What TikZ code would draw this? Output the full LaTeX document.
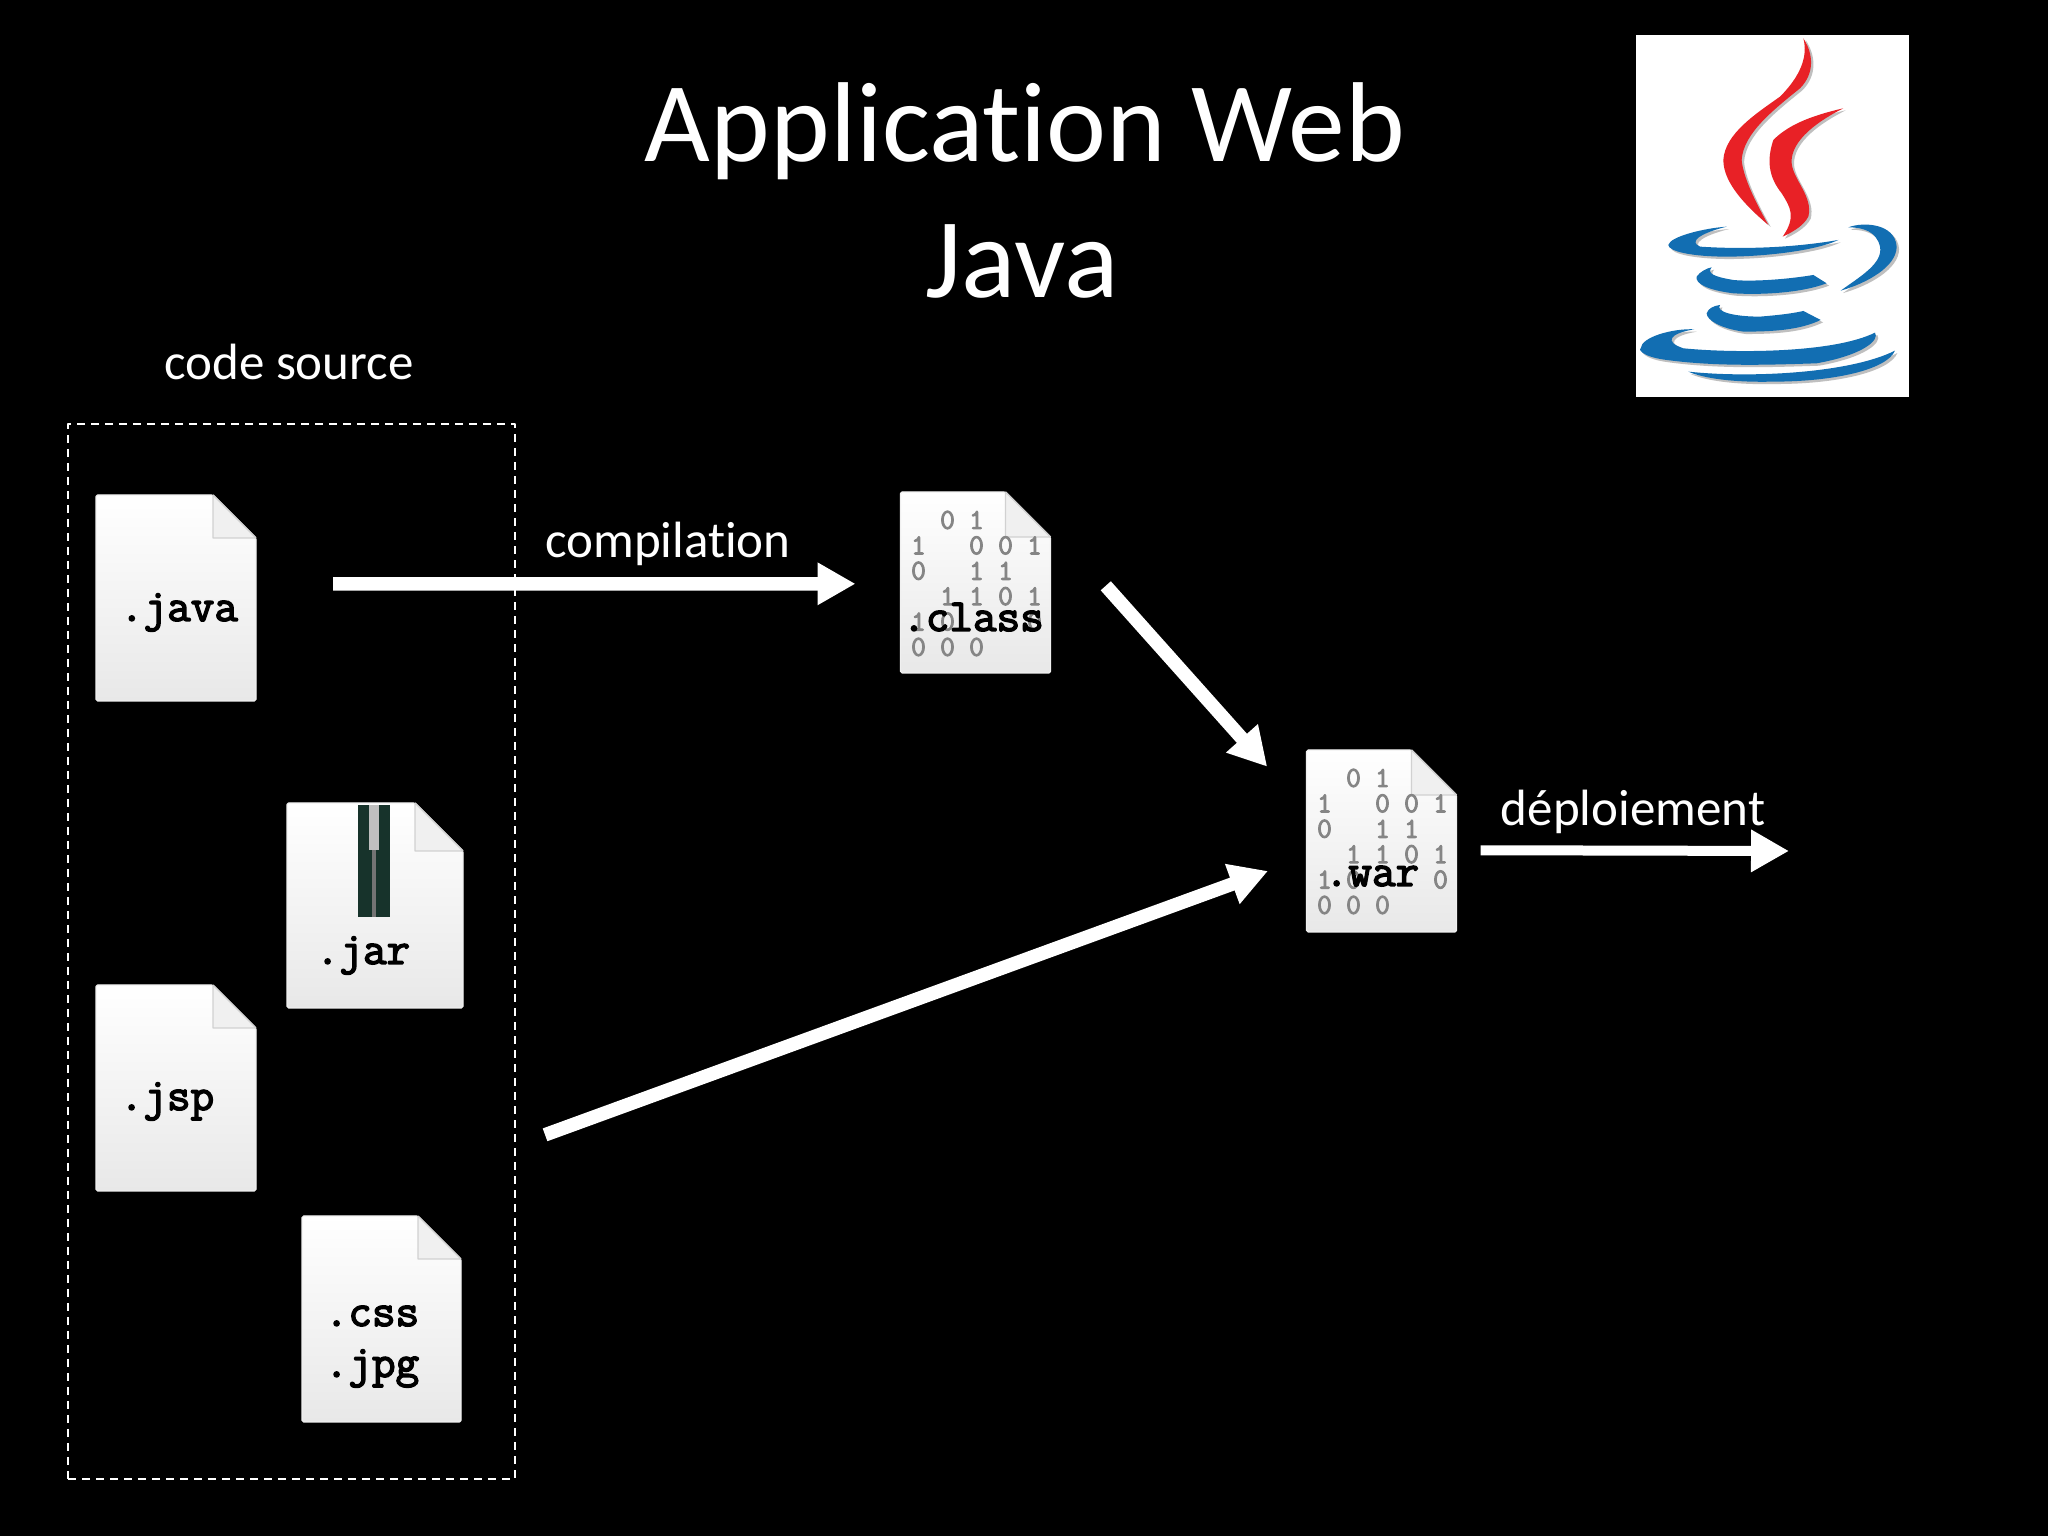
\documentclass[tikz,border=0pt]{standalone}
\usepackage{fontspec}
\setmainfont[Ligatures=NoCommon]{Carlito}
\newfontfamily\extfont[FakeBold=3.2]{Latin Modern Mono}
\usetikzlibrary{arrows.meta,shapes}
\definecolor{javared}{rgb}{0.91,0.13,0.15}
\definecolor{javablue}{rgb}{0.07,0.43,0.70}
\definecolor{zipgreen}{rgb}{0.09,0.20,0.17}
\tikzset{
  flow/.style={->,white,line width=6.8bp,>={Triangle[length=19bp,width=20bp]}},
  filebox/.style={inner sep=0pt,outer sep=0pt},
  filebody/.style={top color=white,bottom color=black!9,draw=black!6,line width=0.6bp,rounded corners=0.8bp},
  filefold/.style={draw=black!18,line width=0.7bp,fill=black!6},
  ext/.style={black,inner sep=0pt,font=\fontsize{23pt}{23pt}\selectfont\extfont,anchor=base},
  digit/.style={black!48,inner sep=0pt,font=\fontsize{14.5pt}{14.5pt}\selectfont\extfont},
  slabel/.style={white,inner sep=0pt,anchor=base,font=\fontsize{25.6pt}{27pt}\selectfont},
  stitle/.style={white,inner sep=0pt,anchor=base,font=\fontsize{57pt}{68pt}\selectfont},
  logored/.style={fill=javared,preaction={fill=black!25,transform canvas={xshift=1.2bp,yshift=-1bp}}},
  logoblue/.style={fill=javablue,preaction={fill=black!25,transform canvas={xshift=1.2bp,yshift=-1.2bp}}},
}
\newcommand{\filedoc}[6]{%
  \node[filebox,minimum width=#4bp,minimum height=#5bp] (#1) at (#2bp,#3bp) {};
  \path[filebody] (#1.north west) -- ([xshift=-#6bp]#1.north east) -- ([yshift=-#6bp]#1.north east) -- (#1.south east) -- (#1.south west) -- cycle;
  \path[filefold] ([xshift=-#6bp]#1.north east) -- ([xshift=-#6bp,yshift=-#6bp]#1.north east) -- ([yshift=-#6bp]#1.north east) -- cycle;
}
\newcommand{\bindigits}[1]{%
  \foreach \dx/\dy/\dv in {2/1/0,3/1/1,1/2/1,3/2/0,4/2/0,5/2/1,1/3/0,3/3/1,4/3/1,2/4/1,3/4/1,4/4/0,5/4/1,1/5/1,2/5/0,5/5/0,1/6/0,2/6/0,3/6/0}
    \node[digit] (#1d\dx\dy) at ([xshift={9bp+(\dx-1)*14.5bp},yshift={-14bp-(\dy-1)*12.7bp}]#1.north west) {\dv};
}
\begin{document}
\begin{tikzpicture}[line join=bevel]
\useasboundingbox (0bp,0bp) rectangle (1024bp,768bp);
\fill[black] (0bp,0bp) rectangle (1024bp,768bp);
%%
  % Node: title
  \node[stitle] (title1) at (512.5bp,687bp) {Application Web};
  \node[stitle] (title2) at (511bp,619bp) {Java};
  % Node: src
  \node[filebox,draw=white,line width=1bp,dash pattern=on 4bp off 3bp,minimum width=223.5bp,minimum height=527.5bp] (src) at (145.75bp,292.25bp) {};
  \node[slabel] (srclabel) at (144.5bp,578bp) {code source};
  % Node: java
  \filedoc{java}{88}{469}{80}{103}{21.5}
  \node[ext] (javatxt) at (89.5bp,457.5bp) {.java};
  % Node: jar
  \filedoc{jar}{187.5}{315.25}{88}{102.5}{24}
  \fill[zipgreen] (179bp,365.5bp) rectangle (195bp,309.5bp);
  \fill[black!55] (186.2bp,365.5bp) rectangle (187.8bp,309.5bp);
  \fill[black!25] (184.5bp,365.5bp) rectangle (189.5bp,343bp);
  \node[ext] (jartxt) at (181.5bp,286bp) {.jar};
  % Node: jsp
  \filedoc{jsp}{88}{224}{80}{103}{21.5}
  \node[ext] (jsptxt) at (83.5bp,213bp) {.jsp};
  % Node: css
  \filedoc{css}{190.75}{108.5}{79.5}{103}{21.5}
  \node[ext] (csstxt) at (186bp,105bp) {.css};
  \node[ext] (jpgtxt) at (186bp,79.5bp) {.jpg};
  % Node: class
  \filedoc{class}{487.75}{476.75}{75}{90.5}{22.5}
  \bindigits{class}
  \node[ext] (classtxt) at (486.5bp,452.5bp) {.class};
  % Node: war
  \filedoc{war}{690.75}{347.5}{75}{91}{22.5}
  \bindigits{war}
  \node[ext] (wartxt) at (686bp,325bp) {.war};
  % Node: deploy
  \coordinate (deploy) at (894.5bp,342.5bp);
  % Edge: java -> class
  \draw[flow,shorten <=38.5bp,shorten >=22.5bp] (java.10) -- (class.181);
  \node[slabel] (compil) at (334bp,489bp) {compilation};
  % Edge: class -> war
  \draw[flow,shorten <=41.5bp,shorten >=29.5bp] (class.38) -- (war.158);
  % Edge: src -> war
  \draw[flow,shorten <=16bp,shorten >=20.5bp] (src.-41.3) -- (war.192);
  % Edge: war -> deploy
  \draw[flow,line width=5bp,shorten <=12bp] (war.-7.6) -- (deploy);
  \node[slabel] (deplabel) at (816.5bp,355bp) {déploiement};
  % Node: logo
\begin{scope}[shift={(800bp,758bp)},x=0.16667bp,y=-0.16667bp]
  \fill[white] (108,46) rectangle (926,1130);
  \path[logored] (610,55) .. controls (640,100) and (645,160) .. (600,205) .. controls (520,270) and (430,340) .. (425,420) .. controls (430,480) and (480,570) .. (505,615) .. controls (440,560) and (370,490) .. (370,420) .. controls (375,340) and (470,280) .. (540,230) .. controls (600,170) and (625,110) .. (610,55) -- cycle;
  \path[logored] (730,265) .. controls (660,300) and (570,360) .. (575,430) .. controls (580,480) and (640,530) .. (625,590) .. controls (610,620) and (570,640) .. (548,650) .. controls (590,590) and (570,560) .. (545,520) .. controls (505,470) and (500,420) .. (520,360) .. controls (560,320) and (620,290) .. (730,265) -- cycle;
  \path[logoblue] (380,620) .. controls (300,640) and (265,665) .. (300,680) .. controls (450,690) and (600,680) .. (715,660) .. controls (640,695) and (480,710) .. (380,710) .. controls (280,710) and (205,695) .. (205,675) .. controls (210,650) and (310,625) .. (380,620) -- cycle;
  \path[logoblue] (745,622) .. controls (790,605) and (885,610) .. (890,680) .. controls (890,740) and (800,790) .. (722,812) .. controls (780,770) and (850,730) .. (840,680) .. controls (830,635) and (790,622) .. (745,622) -- cycle;
  \path[logoblue] (335,742) .. controls (320,760) and (340,770) .. (400,780) .. controls (450,785) and (550,780) .. (640,765) -- (680,790) .. controls (600,820) and (480,825) .. (400,820) .. controls (320,810) and (285,790) .. (290,770) .. controls (300,755) and (320,745) .. (335,742) -- cycle;
  \path[logoblue] (360,855) .. controls (345,875) and (400,890) .. (480,890) .. controls (540,885) and (580,880) .. (610,873) -- (662,900) .. controls (600,930) and (520,935) .. (430,935) .. controls (360,925) and (320,900) .. (320,880) .. controls (325,865) and (340,858) .. (360,855) -- cycle;
  \path[logoblue] (283,928) .. controls (210,940) and (190,965) .. (250,985) .. controls (400,1000) and (700,1000) .. (825,938) .. controls (840,960) and (790,1005) .. (650,1030) .. controls (500,1035) and (350,1040) .. (200,1020) .. controls (120,1010) and (115,985) .. (122,985) .. controls (125,950) and (220,925) .. (283,928) -- cycle;
  \path[logoblue] (265,1055) .. controls (450,1075) and (750,1060) .. (885,992) .. controls (860,1050) and (700,1085) .. (520,1085) .. controls (400,1088) and (310,1075) .. (265,1055) -- cycle;
\end{scope}
%
\end{tikzpicture}
\end{document}
